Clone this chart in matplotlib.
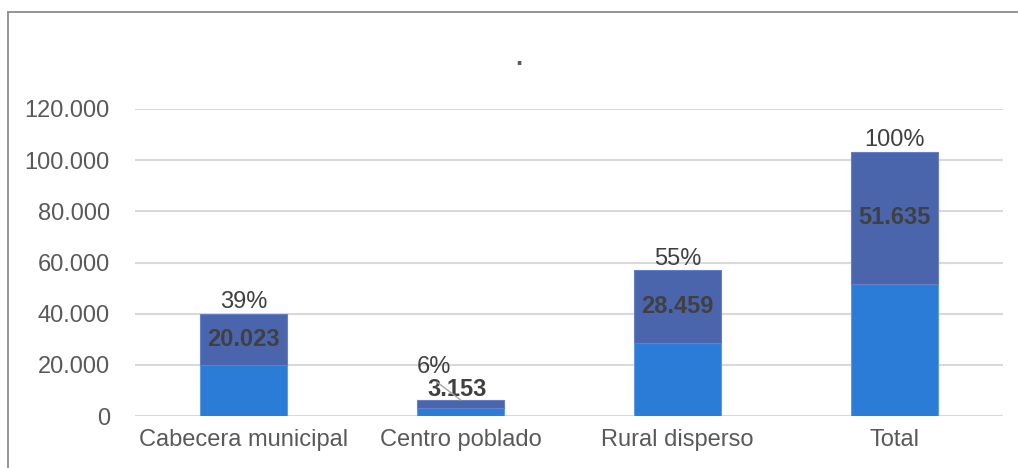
import matplotlib
matplotlib.use("Agg")
import matplotlib.pyplot as plt
from matplotlib.ticker import FuncFormatter
from matplotlib.lines import Line2D

plt.rcParams["font.family"] = ["Liberation Sans", "DejaVu Sans"]

# Data
categorias = ["Cabecera municipal", "Centro poblado", "Rural disperso", "Total"]
serie_inferior = [20023, 3153, 28459, 51635]
serie_superior = [20023, 3153, 28459, 51635]
porcentajes = ["39%", "6%", "55%", "100%"]
y_ticks = [0, 20000, 40000, 60000, 80000, 100000, 120000]

color_inf = "#2B7CD6"
color_sup = "#4A65AC"
gris_txt = "#595959"
gris_val = "#404040"

fig = plt.figure(figsize=(10.18, 4.68), dpi=100)
ax = fig.add_axes([0.1326, 0.1111, 0.8527, 0.656])

x = list(range(len(categorias)))
ax.bar(x, serie_inferior, width=0.4, color=color_inf, edgecolor="#5E9BE3",
       linewidth=0.8, zorder=3)
ax.bar(x, serie_superior, width=0.4, bottom=serie_inferior, color=color_sup,
       edgecolor="#6580C4", linewidth=0.8, zorder=3)

ax.set_xlim(-0.5, 3.5)
ax.set_ylim(0, 120000)
ax.set_yticks(y_ticks)
ax.yaxis.set_major_formatter(
    FuncFormatter(lambda v, p: f"{int(v):,}".replace(",", ".")))
ax.set_xticks(x)
ax.set_xticklabels(categorias)
ax.tick_params(axis="both", length=0, labelsize=17, colors=gris_txt)
ax.tick_params(axis="y", pad=18)
ax.tick_params(axis="x", pad=9)
for s in ax.spines.values():
    s.set_visible(False)
ax.grid(axis="y", color="#D9D9D9", linewidth=1.5, zorder=0)
ax.set_axisbelow(True)

# Segment value labels and percentage labels
for i, (lo, up, pc) in enumerate(zip(serie_inferior, serie_superior, porcentajes)):
    top = lo + up
    txt = f"{up:,}".replace(",", ".")
    if i == 1:
        ax.text(0.983, 10550, txt, ha="center", va="center", fontsize=17,
                fontweight="bold", color=gris_val, zorder=5)
        ax.plot([0.891, 1.0], [13280, top], color="#A6A6A6", lw=1.0, zorder=6)
        ax.text(0.877, 16800, pc, ha="center", va="baseline", fontsize=17,
                color=gris_val, zorder=5)
    else:
        ax.text(i, lo + up / 2, txt, ha="center", va="center", fontsize=17,
                fontweight="bold", color=gris_val, zorder=5)
        ax.annotate(pc, (i, top), xytext=(0, 4), textcoords="offset points",
                    ha="center", va="baseline", fontsize=17, color=gris_val,
                    zorder=5)

# Title
fig.text(0.51, 1 - 65 / 468, ".", ha="center", va="baseline", fontsize=18,
         fontweight="bold", color=gris_txt)

# Outer frame
fx, fy = 8 / 1018, 1 - 12 / 468
fig.add_artist(Line2D([fx, fx], [0, fy], color="#8C8C8C", lw=1.3,
                      transform=fig.transFigure))
fig.add_artist(Line2D([fx, 1], [fy, fy], color="#8C8C8C", lw=1.3,
                      transform=fig.transFigure))

fig.savefig("out.png", dpi=100)
